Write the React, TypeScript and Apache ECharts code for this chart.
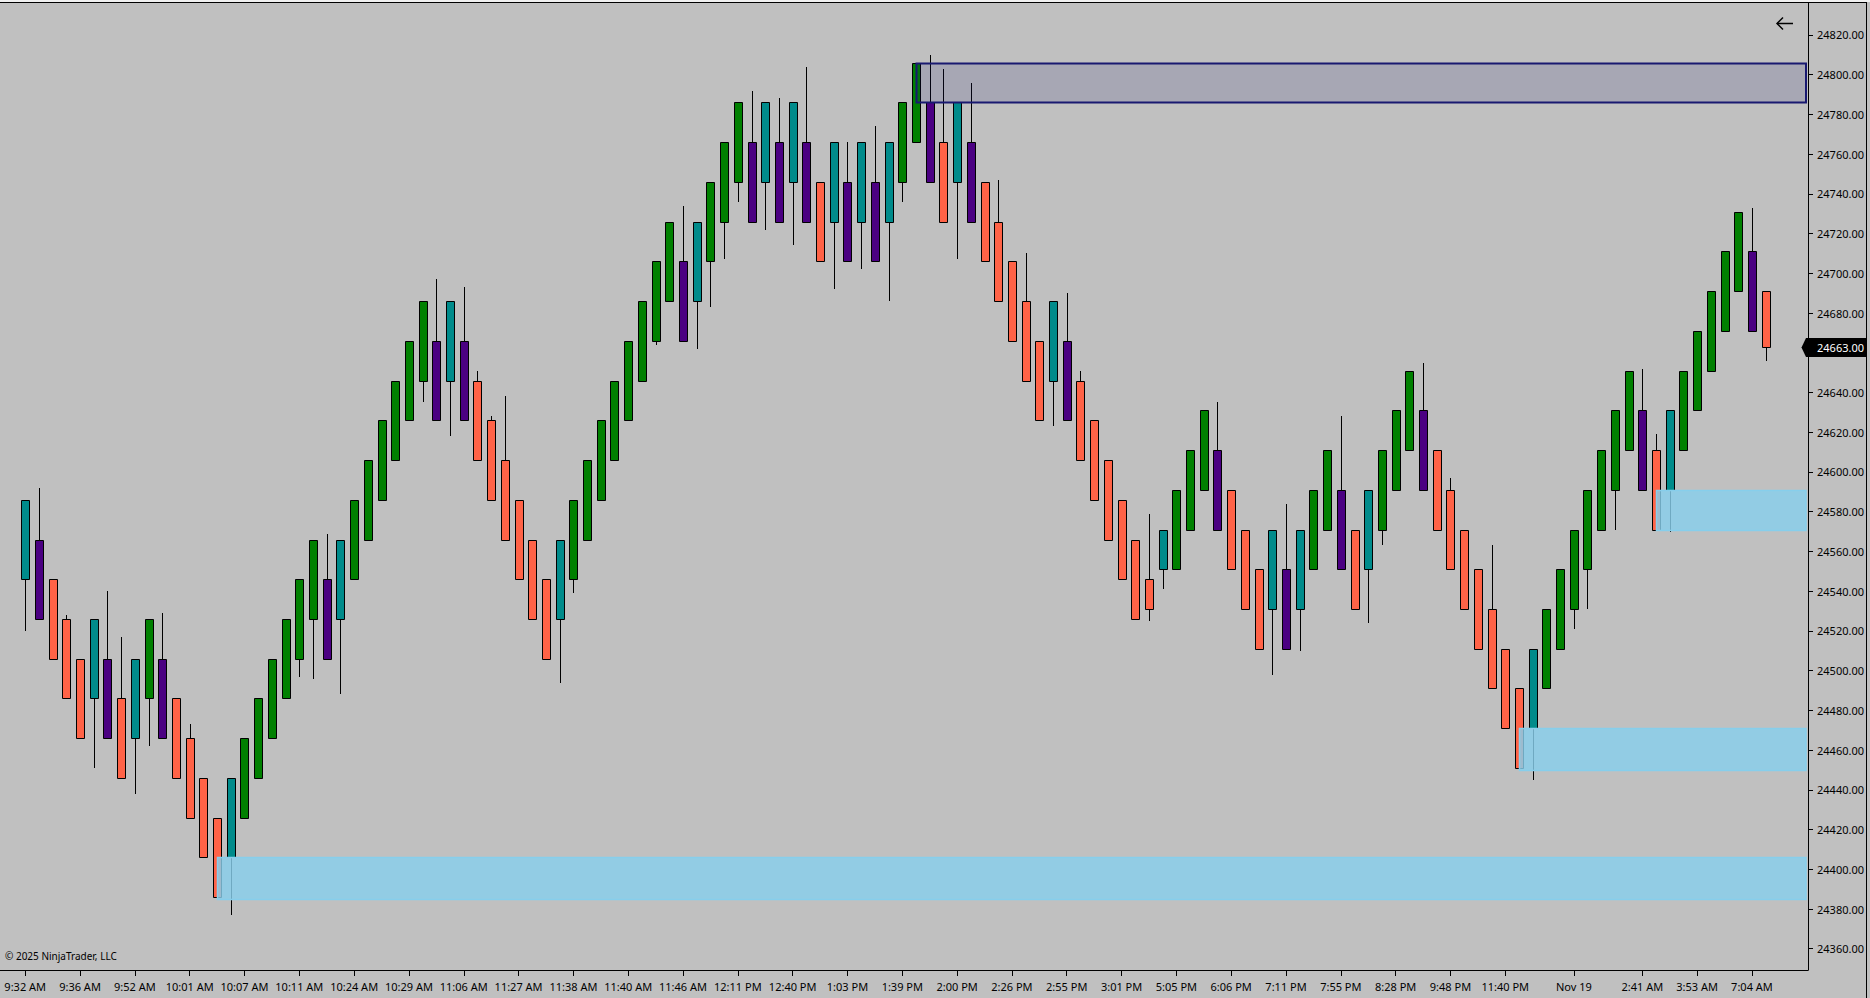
import React, { useEffect, useRef } from "react";
import * as echarts from "echarts";

// ---------- data ----------
const opens = [
  24546, 24566, 24546, 24526, 24506, 24486, 24506, 24486, 24466, 24486,
  24506, 24486, 24466, 24446, 24426, 24406, 24426, 24446, 24466, 24486,
  24506, 24526, 24546, 24526, 24546, 24566, 24586, 24606, 24626, 24646,
  24666, 24646, 24666, 24646, 24626, 24606, 24586, 24566, 24546, 24526,
  24546, 24566, 24586, 24606, 24626, 24646, 24666, 24686, 24706, 24686,
  24706, 24726, 24746, 24766, 24746, 24766, 24746, 24766, 24746, 24726,
  24746, 24726, 24746, 24726, 24746, 24766, 24786, 24766, 24746, 24766,
  24746, 24726, 24706, 24686, 24666, 24646, 24666, 24646, 24626, 24606,
  24586, 24566, 24546, 24551, 24551, 24571, 24591, 24611, 24591, 24571,
  24551, 24531, 24551, 24531, 24551, 24571, 24591, 24571, 24551, 24571,
  24591, 24611, 24631, 24611, 24591, 24571, 24551, 24531, 24511, 24491,
  24471, 24491, 24511, 24531, 24551, 24571, 24591, 24611, 24631, 24611,
  24591, 24611, 24631, 24651, 24671, 24691, 24711, 24691,
];
const closes = [
  24586, 24526, 24506, 24486, 24466, 24526, 24466, 24446, 24506, 24526,
  24466, 24446, 24426, 24406, 24386, 24446, 24466, 24486, 24506, 24526,
  24546, 24566, 24506, 24566, 24586, 24606, 24626, 24646, 24666, 24686,
  24626, 24686, 24626, 24606, 24586, 24566, 24546, 24526, 24506, 24566,
  24586, 24606, 24626, 24646, 24666, 24686, 24706, 24726, 24666, 24726,
  24746, 24766, 24786, 24726, 24786, 24726, 24786, 24726, 24706, 24766,
  24706, 24766, 24706, 24766, 24786, 24806, 24746, 24726, 24786, 24726,
  24706, 24686, 24666, 24646, 24626, 24686, 24626, 24606, 24586, 24566,
  24546, 24526, 24531, 24571, 24591, 24611, 24631, 24571, 24551, 24531,
  24511, 24571, 24511, 24571, 24591, 24611, 24551, 24531, 24591, 24611,
  24631, 24651, 24591, 24571, 24551, 24531, 24511, 24491, 24471, 24451,
  24511, 24531, 24551, 24571, 24591, 24611, 24631, 24651, 24591, 24571,
  24631, 24651, 24671, 24691, 24711, 24731, 24671, 24663,
];
const highs = [
  24586, 24592, 24546, 24528, 24506, 24526, 24540, 24517, 24506, 24526,
  24529, 24486, 24473, 24446, 24426, 24446, 24466, 24486, 24506, 24526,
  24546, 24566, 24569, 24566, 24586, 24606, 24626, 24646, 24666, 24686,
  24697, 24686, 24693, 24651, 24628, 24638, 24586, 24566, 24546, 24566,
  24586, 24606, 24626, 24646, 24666, 24686, 24706, 24726, 24734, 24726,
  24746, 24766, 24786, 24792, 24786, 24788, 24786, 24804, 24746, 24766,
  24766, 24766, 24774, 24766, 24786, 24806, 24810, 24803, 24786, 24796,
  24746, 24747, 24706, 24710, 24666, 24686, 24690, 24651, 24626, 24606,
  24586, 24566, 24579, 24571, 24591, 24611, 24631, 24635, 24591, 24571,
  24551, 24571, 24584, 24571, 24591, 24611, 24628, 24571, 24591, 24611,
  24631, 24651, 24655, 24611, 24597, 24571, 24551, 24563, 24511, 24491,
  24511, 24531, 24551, 24571, 24591, 24611, 24631, 24651, 24652, 24619,
  24631, 24651, 24671, 24691, 24711, 24731, 24733, 24691,
];
const lows = [
  24520, 24526, 24506, 24486, 24466, 24451, 24466, 24446, 24438, 24462,
  24466, 24446, 24426, 24406, 24386, 24377, 24426, 24446, 24466, 24486,
  24497, 24496, 24506, 24488, 24546, 24566, 24586, 24606, 24626, 24635,
  24626, 24618, 24626, 24606, 24586, 24566, 24546, 24526, 24506, 24494,
  24539, 24566, 24586, 24606, 24626, 24646, 24664, 24686, 24666, 24662,
  24683, 24707, 24736, 24726, 24722, 24726, 24714, 24726, 24706, 24692,
  24706, 24702, 24706, 24686, 24736, 24766, 24746, 24726, 24707, 24726,
  24706, 24686, 24666, 24646, 24626, 24623, 24626, 24606, 24586, 24566,
  24546, 24526, 24525, 24541, 24551, 24571, 24591, 24571, 24551, 24531,
  24511, 24498, 24511, 24510, 24551, 24571, 24551, 24531, 24524, 24563,
  24591, 24611, 24591, 24571, 24551, 24531, 24511, 24491, 24471, 24451,
  24445, 24491, 24511, 24521, 24531, 24571, 24571, 24611, 24591, 24571,
  24570, 24611, 24631, 24651, 24671, 24691, 24671, 24656,
];

// time-axis labels (bar index -> label)
const xLabelIdx = [0, 4, 8, 12, 16, 20, 24, 28, 32, 36, 40, 44, 48, 52, 56, 60, 64, 68, 72, 76, 80, 84, 88, 92, 96, 100, 104, 108, 113, 118, 122, 126];
const xLabelText = [
  "9:32 AM", "9:36 AM", "9:52 AM", "10:01 AM", "10:07 AM", "10:11 AM", "10:24 AM", "10:29 AM",
  "11:06 AM", "11:27 AM", "11:38 AM", "11:40 AM", "11:46 AM", "12:11 PM", "12:40 PM", "1:03 PM",
  "1:39 PM", "2:00 PM", "2:26 PM", "2:55 PM", "3:01 PM", "5:05 PM", "6:06 PM", "7:11 PM",
  "7:55 PM", "8:28 PM", "9:48 PM", "11:40 PM", "Nov 19", "2:41 AM", "3:53 AM", "7:04 AM",
];
const yTicks = [
  24360, 24380, 24400, 24420, 24440, 24460, 24480, 24500, 24520, 24540, 24560, 24580,
  24600, 24620, 24640, 24660, 24680, 24700, 24720, 24740, 24760, 24780, 24800, 24820,
];

// zones: start bar, low, high, kind
const zoneStart = [65, 14, 109, 119];
const zoneLow = [24786, 24385, 24450, 24571];
const zoneHigh = [24806, 24406, 24471, 24591];
const zoneKind = ["supply", "demand", "demand", "demand"];

const lastPrice = 24663;

// axis ranges
const X_MIN = -1.84;
const X_MAX = 130.09;
const Y_MIN = 24349.3;
const Y_MAX = 24836.06;

const FONT = "'Noto Sans', 'Segoe UI', sans-serif";

const C_UP = "#008000";
const C_DOWN = "#ff6347";
const C_REV_UP = "#008b8b";
const C_REV_DOWN = "#4b0082";

const barColors: string[] = opens.map((o, i) => {
  const up = closes[i] > o;
  const prevUp = i > 0 ? closes[i - 1] > opens[i - 1] : false;
  if (up) return prevUp ? C_UP : C_REV_UP;
  return prevUp ? C_REV_DOWN : C_DOWN;
});

export default function App() {
  const ref = useRef<HTMLDivElement>(null);

  useEffect(() => {
    if (!ref.current) return;
    const chart = echarts.init(ref.current, null, { renderer: "svg" });

    const candleData = opens.map((o, i) => [i, o, closes[i], lows[i], highs[i]]);
    const zoneData = zoneStart.map((s, i) => [s, zoneLow[i], zoneHigh[i], zoneKind[i] === "supply" ? 1 : 0]);

    const labelMap: Record<number, string> = {};
    xLabelIdx.forEach((v, i) => (labelMap[v] = xLabelText[i]));

    // the last-price tag covers this tick's label
    const yLabelValues = yTicks.filter((v) => Math.abs(v - lastPrice) > 8);

    const option: any = {
      animation: false,
      backgroundColor: "#c0c0c0",
      grid: { left: 0, right: 62, top: 3, bottom: 28, containLabel: false },
      xAxis: {
        type: "value",
        min: X_MIN,
        max: X_MAX,
        axisLine: { show: true, onZero: false, lineStyle: { color: "#000", width: 1 } },
        axisTick: { show: true, customValues: xLabelIdx, length: 6, lineStyle: { color: "#000", width: 1 } },
        axisLabel: {
          show: true,
          customValues: xLabelIdx,
          formatter: (v: number) => labelMap[Math.round(v)] ?? "",
          color: "#000",
          fontSize: 11,
          fontFamily: FONT,
          margin: 11,
        },
        splitLine: { show: false },
      },
      yAxis: {
        type: "value",
        position: "right",
        min: Y_MIN,
        max: Y_MAX,
        scale: true,
        axisLine: { show: true, onZero: false, lineStyle: { color: "#000", width: 1 } },
        axisTick: { show: true, customValues: yTicks, length: 5, lineStyle: { color: "#000", width: 1 } },
        axisLabel: {
          show: true,
          customValues: yLabelValues,
          formatter: (v: number) => v.toFixed(2),
          color: "#000",
          fontSize: 11,
          fontFamily: FONT,
          margin: 9,
        },
        splitLine: { show: false },
      },
      graphic: [
        { type: "rect", shape: { x: 0, y: 0, width: 1870, height: 2 }, style: { fill: "#f0f0f0" }, silent: true },
        { type: "line", shape: { x1: 0, y1: 2.5, x2: 1867, y2: 2.5 }, style: { stroke: "#000", lineWidth: 1 }, silent: true },
        { type: "line", shape: { x1: 1866.5, y1: 2.5, x2: 1866.5, y2: 998 }, style: { stroke: "#000", lineWidth: 1 }, silent: true },
        // back arrow icon
        { type: "line", shape: { x1: 1777, y1: 23.5, x2: 1793, y2: 23.5 }, style: { stroke: "#000", lineWidth: 1.5 }, silent: true },
        { type: "polyline", shape: { points: [[1783, 17.5], [1777, 23.5], [1783, 29.5]] }, style: { stroke: "#000", lineWidth: 1.5, fill: "none" }, silent: true },
        {
          type: "text",
          x: 5,
          y: 956,
          style: { text: "© 2025 NinjaTrader, LLC", fill: "#000", font: `10px ${FONT}`, textVerticalAlign: "middle", verticalAlign: "middle" },
          silent: true,
        },
      ],
      series: [
        {
          type: "custom",
          name: "bars",
          z: 2,
          clip: true,
          encode: { x: 0, y: [1, 2, 3, 4] },
          data: candleData,
          renderItem: (params: any, api: any) => {
            const i = api.value(0);
            const o = api.value(1);
            const c = api.value(2);
            const l = api.value(3);
            const h = api.value(4);
            const pO = api.coord([i, o]);
            const pC = api.coord([i, c]);
            const pL = api.coord([i, l]);
            const pH = api.coord([i, h]);
            const cx = Math.round(pO[0]) + 0.5;
            const top = Math.round(Math.min(pO[1], pC[1])) + 0.5;
            const bot = Math.round(Math.max(pO[1], pC[1])) + 0.5;
            const w = 8;
            return {
              type: "group",
              children: [
                {
                  type: "line",
                  shape: { x1: cx, y1: Math.round(pH[1]), x2: cx, y2: Math.round(pL[1]) },
                  style: { stroke: "#000", lineWidth: 1 },
                },
                {
                  type: "rect",
                  shape: { x: cx - w / 2, y: top, width: w, height: bot - top },
                  style: { fill: barColors[params.dataIndex], stroke: "#000", lineWidth: 1 },
                },
              ],
            };
          },
        },
        {
          type: "custom",
          name: "zones",
          z: 3,
          clip: true,
          encode: { x: 0, y: [1, 2] },
          data: zoneData,
          renderItem: (params: any, api: any) => {
            const s = api.value(0);
            const lo = api.value(1);
            const hi = api.value(2);
            const supply = api.value(3) === 1;
            const pT = api.coord([s, hi]);
            const pB = api.coord([s, lo]);
            const right = params.coordSys.x + params.coordSys.width - 2;
            const x = Math.round(pT[0]) + 0.5;
            const y = Math.round(pT[1]) + 0.5;
            const y2 = Math.round(pB[1]) + 0.5;
            if (supply) {
              return {
                type: "rect",
                shape: { x, y, width: right - x, height: y2 - y },
                style: { fill: "rgba(25,25,112,0.15)", stroke: "#191970", lineWidth: 2 },
              };
            }
            return {
              type: "rect",
              shape: { x, y, width: right - x, height: y2 - y },
              style: { fill: "rgba(135,206,235,0.82)", stroke: "#87ceeb", lineWidth: 1.5 },
            };
          },
        },
        {
          type: "custom",
          name: "price",
          z: 10,
          clip: false,
          encode: { x: 0, y: 1 },
          data: [[opens.length - 1, lastPrice]],
          renderItem: (params: any, api: any) => {
            const p = api.coord([api.value(0), api.value(1)]);
            const xr = params.coordSys.x + params.coordSys.width;
            const y = Math.round(p[1]) + 0.5;
            return {
              type: "group",
              children: [
                {
                  type: "polygon",
                  shape: {
                    points: [
                      [xr - 6.5, y],
                      [xr - 2, y - 9.5],
                      [xr + 58, y - 9.5],
                      [xr + 58, y + 9.5],
                      [xr - 2, y + 9.5],
                    ],
                  },
                  style: { fill: "#000" },
                },
                {
                  type: "text",
                  x: xr + 9,
                  y: y,
                  style: {
                    text: api.value(1).toFixed(2),
                    fill: "#fff",
                    font: `11px ${FONT}`,
                    verticalAlign: "middle",
                    textVerticalAlign: "middle",
                  },
                },
              ],
            };
          },
        },
      ],
    };

    chart.setOption(option);
    return () => chart.dispose();
  }, []);

  return (
    <div
      ref={ref}
      style={{ position: "fixed", left: 0, top: 0, width: 1870, height: 998 }}
    />
  );
}
